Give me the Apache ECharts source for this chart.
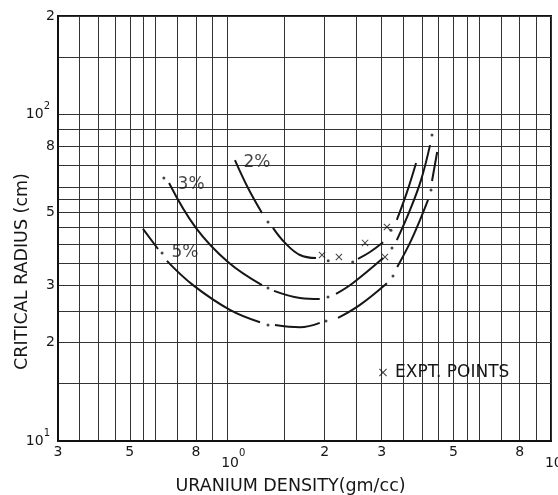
<!DOCTYPE html>
<html>
<head>
<meta charset="utf-8">
<script src="https://cdn.jsdelivr.net/npm/echarts@6/dist/echarts.min.js"></script>
<style>
html, body { margin: 0; padding: 0; background: #fff; }
#chart { width: 558px; height: 495px; }
</style>
</head>
<body>
<div id="chart"></div>
<script>
// critical radius vs uranium density (log-log paper)
var xGrid = [0.3, 0.35, 0.4, 0.45, 0.5, 0.55, 0.6, 0.7, 0.8, 0.9, 1, 1.5, 2, 2.5, 3, 3.5, 4, 4.5, 5, 5.5, 6, 7, 8, 9, 10];
var yGrid = [10, 15, 20, 25, 30, 35, 40, 45, 50, 55, 60, 70, 80, 90, 100, 150, 200];
var xLabels = [0.3, 0.5, 0.8, 1, 2, 3, 5, 8, 10];
var yLabels = [10, 20, 30, 50, 80, 100, 200];

// curves, null = break in the dash-dot line
var curve2 = [[1.056, 72.4], [1.159, 59.5], [1.28, 49.9], null,
              [1.384, 44.9], [1.508, 40.4], [1.677, 37.1], [1.88, 36.3], null,
              [2.534, 36.1], [2.76, 37.9], [3.03, 40.6], null,
              [3.34, 47.5], [3.59, 57.8], [3.83, 71.0]];
var dots2 = [[1.336, 46.8], [2.05, 35.6], [2.44, 35.3], [3.204, 44.2]];

var curve3 = [[0.661, 61.6], [0.80, 44.9], [1.005, 35.3], [1.28, 30.0], null,
              [1.394, 28.8], [1.677, 27.4], [1.93, 27.2], null,
              [2.167, 28.2], [2.44, 30.4], [3.03, 36.3], null,
              [3.34, 41.2], [3.667, 50.9], [3.967, 62.9], [4.23, 80.5]];
var dots3 = [[0.637, 63.8], [1.336, 29.4], [2.047, 27.6], [3.227, 39.0], [4.29, 86.4]];

var curve5 = [[0.549, 44.6], [0.611, 38.7], null,
              [0.651, 35.6], [0.784, 30.0], [1.019, 25.2], [1.262, 23.1], null,
              [1.404, 22.65], [1.677, 22.3], [1.93, 23.0], null,
              [2.198, 23.8], [2.57, 26.1], [3.113, 30.4], null,
              [3.35, 34.1], [3.667, 40.4], [3.94, 47.5], [4.17, 54.7], null,
              [4.29, 62.5], [4.45, 76.7]];
var dots5 = [[0.629, 37.6], [1.336, 22.65], [2.018, 23.3], [3.25, 32.0], [4.26, 58.7]];

var exptPoints = [[1.962, 37.1], [2.213, 36.6], [2.664, 40.4], [3.113, 45.2], [3.07, 36.6]];

var curveNames = ['2%', '3%', '5%'];
var curveNameAt = [[1.235, 71.4], [0.773, 60.8], [0.740, 37.8]];

var FONT = 'DejaVu Sans';
var INK = '#161616';

var chart = echarts.init(document.getElementById('chart'));

function gaps(arr) {
	return arr.map(function (p) { return p ? p : ['-', '-']; });
}

function tickText(v) {
	var r = Math.round(v * 100) / 100;
	if (r === 1) return '{d|10}{s|0}';
	if (r === 10) return '{d|10}{s|1}';
	if (r === 100) return '{d|10}{s|2}';
	if (r < 1) return String(Math.round(r * 10));
	if (r >= 100) return String(Math.round(r / 100));
	if (r >= 10) return String(Math.round(r / 10));
	return String(r);
}

function curveSeries(data) {
	return {
		type: 'line',
		data: gaps(data),
		smooth: 0.4,
		connectNulls: false,
		showSymbol: false,
		symbol: 'none',
		silent: true,
		lineStyle: { color: INK, width: 2 }
	};
}

function dotSeries(data) {
	return {
		type: 'scatter',
		data: data,
		symbol: 'circle',
		symbolSize: 3,
		silent: true,
		itemStyle: { color: INK }
	};
}

var xSymbol = 'path://M0,1L1,0L5,4L9,0L10,1L6,5L10,9L9,10L5,6L1,10L0,9L4,5Z';

chart.setOption({
	animation: false,
	backgroundColor: '#fff',
	grid: {
		left: 58, right: 7, top: 16, bottom: 54,
		outerBoundsMode: 'none',
		containLabel: false,
		show: true, borderColor: '#111', borderWidth: 2
	},
	legend: {
		data: ['EXPT. POINTS'],
		left: 379, top: 364,
		padding: 0,
		itemWidth: 8, itemHeight: 8,
		selectedMode: false,
		textStyle: { fontSize: 17, color: INK, fontFamily: FONT, padding: [0, 0, 0, 3] }
	},
	xAxis: {
		type: 'log', logBase: 10, min: 0.3, max: 10,
		name: 'URANIUM DENSITY(gm/cc)',
		nameLocation: 'middle', nameGap: 36,
		nameMoveOverlap: false,
		nameTextStyle: { fontSize: 17.5, color: INK, fontFamily: FONT, padding: [0, 28, 0, 0] },
		axisLine: { show: true, lineStyle: { color: '#111', width: 2 } },
		axisTick: { show: false, customValues: xGrid },
		axisLabel: {
			customValues: xLabels,
			formatter: tickText,
			margin: 4,
			fontSize: 14, color: INK, fontFamily: FONT,
			showMinLabel: true, showMaxLabel: true, hideOverlap: false,
			rich: {
				d: { fontSize: 14, fontFamily: FONT, color: INK, verticalAlign: 'top', padding: [11, 0, 0, 12] },
				s: { fontSize: 10, fontFamily: FONT, color: INK, verticalAlign: 'top', padding: [3, 0, 0, 0] }
			}
		},
		splitLine: { show: true, lineStyle: { color: '#333', width: 1 } }
	},
	yAxis: {
		type: 'log', logBase: 10, min: 10, max: 200,
		name: 'CRITICAL RADIUS (cm)',
		nameLocation: 'middle', nameGap: 27,
		nameMoveOverlap: false,
		nameTextStyle: { fontSize: 17.5, color: INK, fontFamily: FONT, padding: [0, 86, 0, 0] },
		axisLine: { show: true, lineStyle: { color: '#111', width: 2 } },
		axisTick: { show: false, customValues: yGrid },
		axisLabel: {
			customValues: yLabels,
			formatter: tickText,
			margin: 3,
			fontSize: 14, color: INK, fontFamily: FONT,
			showMinLabel: true, showMaxLabel: true, hideOverlap: false,
			rich: {
				d: { fontSize: 14, fontFamily: FONT, color: INK, verticalAlign: 'top', padding: [6, 0, 6, 0] },
				s: { fontSize: 10, fontFamily: FONT, color: INK, verticalAlign: 'top', padding: [0, 5, 0, 0] }
			}
		},
		splitLine: { show: true, lineStyle: { color: '#333', width: 1 } }
	},
	series: [
		curveSeries(curve2), dotSeries(dots2),
		curveSeries(curve3), dotSeries(dots3),
		curveSeries(curve5), dotSeries(dots5),
		{
			name: 'EXPT. POINTS',
			type: 'scatter',
			data: exptPoints,
			symbol: xSymbol,
			symbolSize: 7,
			silent: true,
			itemStyle: { color: INK }
		},
		{
			type: 'scatter',
			data: curveNames.map(function (n, i) { return { name: n, value: curveNameAt[i] }; }),
			symbolSize: 0,
			silent: true,
			label: {
				show: true, position: 'inside', formatter: '{b}',
				fontSize: 17, color: INK, fontFamily: FONT
			}
		}
	]
});
</script>
</body>
</html>
